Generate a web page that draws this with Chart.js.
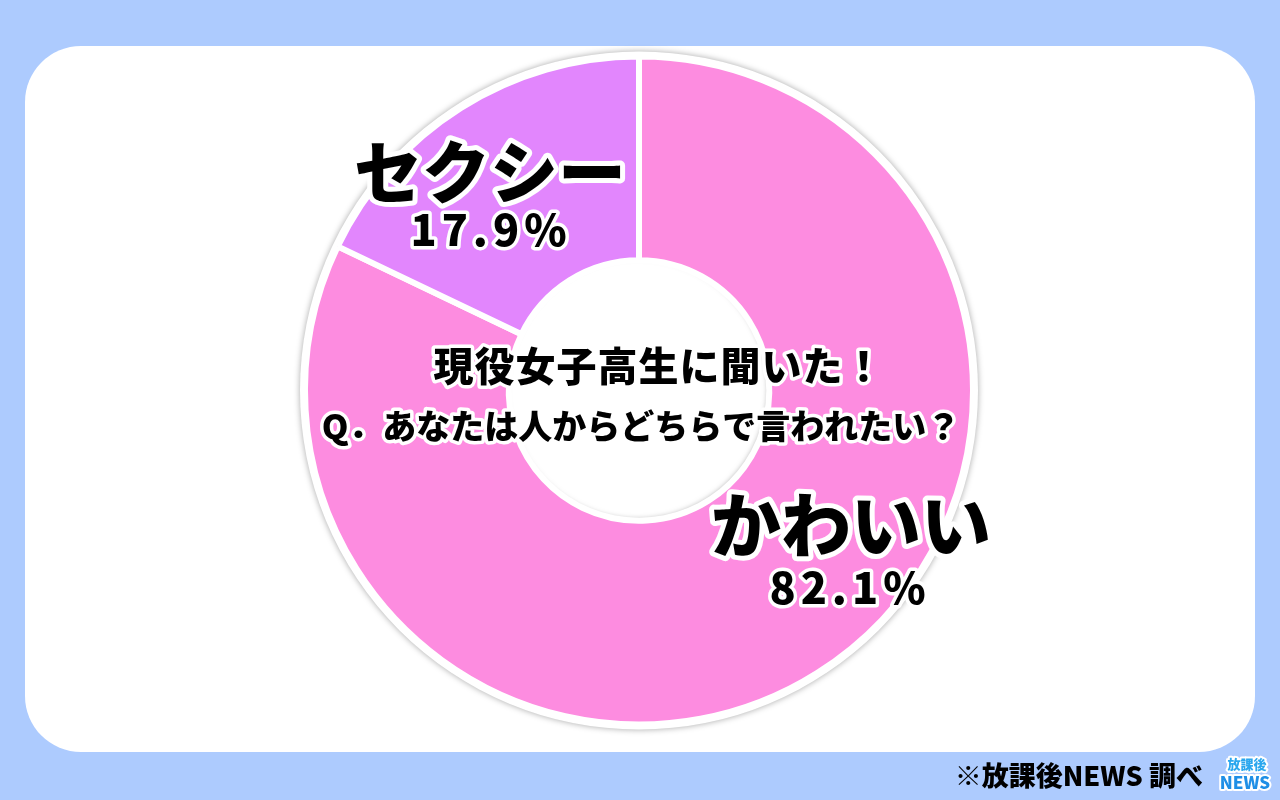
<!DOCTYPE html>
<html lang="ja">
<head>
    <meta charset="UTF-8">
    <title>現役女子高生に聞いた！</title>
    <style>
        body {
            margin: 0;
            background: #adcbfe;
            width: 1280px;
            height: 800px;
            overflow: hidden;
            font-family: "Noto Sans CJK JP", sans-serif;
        }
        #panel {
            position: absolute;
            left: 25px;
            top: 46px;
            width: 1230px;
            height: 706px;
            background: #ffffff;
            border-radius: 56px;
        }
        canvas {
            position: absolute;
            left: 0;
            top: 0;
        }
    </style>
</head>
<body>
    <div id="panel"></div>
    <canvas id="pieChart" width="1280" height="800"></canvas>
    <script src="https://cdn.jsdelivr.net/npm/chart.js"></script>
    <script>
        const labels = ["かわいい", "セクシー"];
        const shares = [82.1, 17.9];
        const colors = ["#fd8ce0", "#e286fd"];
        const title1 = "現役女子高生に聞いた！";
        const title2 = "Q．あなたは人からどちらで言われたい？";
        const source = "※放課後NEWS 調べ";

        const FONT = '"Noto Sans CJK JP", sans-serif';

        function outlined(ctx, text, x, y, size, lineW, spacing) {
            ctx.font = "900 " + size + "px " + FONT;
            ctx.letterSpacing = (spacing || 0) + "px";
            ctx.textAlign = "center";
            ctx.textBaseline = "middle";
            ctx.lineJoin = "round";
            ctx.strokeStyle = "#ffffff";
            ctx.lineWidth = lineW;
            ctx.strokeText(text, x, y);
            ctx.fillStyle = "#000000";
            ctx.fillText(text, x, y);
            ctx.letterSpacing = "0px";
        }

        // soft grey rim around the ring and the hole
        const ringShadow = {
            id: "ringShadow",
            beforeDatasetsDraw(chart) {
                const arc = chart.getDatasetMeta(0).data[0];
                const ctx = chart.ctx;
                ctx.save();
                ctx.beginPath();
                ctx.arc(arc.x, arc.y, arc.outerRadius + 5, 0, Math.PI * 2);
                ctx.fillStyle = "#ffffff";
                ctx.shadowColor = "rgba(0,0,0,0.35)";
                ctx.shadowBlur = 6;
                ctx.fill();
                ctx.restore();
            },
            afterDatasetsDraw(chart) {
                const arc = chart.getDatasetMeta(0).data[0];
                const ctx = chart.ctx;
                ctx.save();
                ctx.beginPath();
                ctx.arc(arc.x, arc.y, arc.innerRadius - 3, 0, Math.PI * 2);
                ctx.clip();
                ctx.beginPath();
                ctx.arc(arc.x, arc.y, arc.innerRadius + 6, 0, Math.PI * 2);
                ctx.strokeStyle = "#ffffff";
                ctx.lineWidth = 8;
                ctx.shadowColor = "rgba(0,0,0,0.55)";
                ctx.shadowBlur = 6;
                ctx.shadowOffsetX = -2;
                ctx.shadowOffsetY = -2;
                ctx.stroke();
                ctx.restore();
            }
        };

        const textLayer = {
            id: "textLayer",
            afterDraw(chart) {
                const ctx = chart.ctx;
                const meta = chart.getDatasetMeta(0);
                const cx = meta.data[0].x;
                ctx.save();
                outlined(ctx, labels[1], 490, 172, 68, 10, 0);
                outlined(ctx, shares[1].toFixed(1) + "%", 491, 230, 43, 7, 5);
                outlined(ctx, labels[0], 851, 525, 70, 10, 0);
                outlined(ctx, shares[0].toFixed(1) + "%", 850, 588, 43, 7, 5);
                outlined(ctx, title1, cx + 20, 366, 40, 7, 1);
                outlined(ctx, title2, cx + 2, 426, 34, 7, 0);

                // source note
                ctx.font = "900 27px " + FONT;
                ctx.textAlign = "right";
                ctx.textBaseline = "middle";
                ctx.fillStyle = "#000000";
                ctx.fillText(source, 1203, 776);

                // small badge
                ctx.textAlign = "center";
                ctx.lineJoin = "round";
                ctx.font = "900 13px " + FONT;
                ctx.strokeStyle = "#ffffff";
                ctx.lineWidth = 4;
                ctx.strokeText("放課後", 1247, 764);
                ctx.fillStyle = "#2aa7ee";
                ctx.fillText("放課後", 1247, 764);
                ctx.font = "900 17px " + FONT;
                ctx.strokeText("NEWS", 1245, 783);
                ctx.fillStyle = "#1f8fe6";
                ctx.fillText("NEWS", 1245, 783);
                ctx.restore();
            }
        };

        new Chart(document.getElementById("pieChart"), {
            type: "doughnut",
            data: {
                labels: labels,
                datasets: [{
                    data: shares,
                    backgroundColor: colors,
                    borderColor: "#ffffff",
                    borderWidth: 6
                }]
            },
            plugins: [ringShadow, textLayer],
            options: {
                responsive: false,
                animation: false,
                cutout: "39%",
                layout: { padding: { top: 53, bottom: 72, left: 302, right: 304 } },
                plugins: {
                    legend: { display: false },
                    tooltip: { enabled: false }
                }
            }
        });
    </script>
</body>
</html>
